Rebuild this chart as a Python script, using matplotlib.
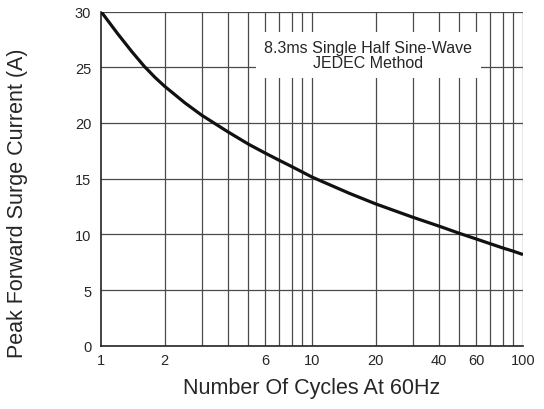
import matplotlib
matplotlib.use("Agg")
import matplotlib.pyplot as plt
from matplotlib.ticker import FixedLocator, NullFormatter, NullLocator

plt.rcParams['font.family'] = ['Liberation Sans', 'DejaVu Sans']

# curve
cycles = [1, 1.2, 1.4, 1.6, 1.8, 2, 2.5, 3, 4, 5, 6, 7, 8, 9, 10,
          15, 20, 30, 40, 50, 60, 70, 80, 90, 100]
current = [30.0, 28.0, 26.4, 25.1, 24.1, 23.3, 21.8, 20.7, 19.2, 18.1, 17.3, 16.65, 16.1, 15.6, 15.15,
           13.7, 12.75, 11.55, 10.75, 10.1, 9.6, 9.17, 8.8, 8.5, 8.2]

xtick_vals = [1, 2, 6, 10, 20, 40, 60, 100]
ytick_vals = [0, 5, 10, 15, 20, 25, 30]
grid_x = [2, 3, 4, 5, 6, 7, 8, 9, 10, 20, 30, 40, 50, 60, 70, 80, 90, 100]

fig = plt.figure(figsize=(5.44, 4.10), dpi=100)
ax = fig.add_axes([0.1857, 0.1537, 0.7757, 0.8158])

ax.set_xscale('log')
ax.set_xlim(1, 100)
ax.set_ylim(0, 30)

for gx in grid_x:
    ax.axvline(gx, color='#4a4a4a', lw=0.9, zorder=1)
for gy in ytick_vals[1:]:
    ax.axhline(gy, color='#4a4a4a', lw=0.9, zorder=1)

ax.plot(cycles, current, color='#111111', lw=2.3, zorder=3,
        solid_capstyle='butt', solid_joinstyle='round')

ax.xaxis.set_major_locator(FixedLocator(xtick_vals))
ax.xaxis.set_minor_locator(NullLocator())
ax.xaxis.set_minor_formatter(NullFormatter())
ax.set_xticklabels([str(v) for v in xtick_vals])
ax.set_yticks(ytick_vals)
ax.tick_params(length=0, labelsize=10.5, colors='#262626')
ax.tick_params(axis='y', pad=7)
ax.tick_params(axis='x', pad=5)

for s in ['top', 'right']:
    ax.spines[s].set_visible(False)
for s in ['left', 'bottom']:
    ax.spines[s].set_color('#222222')
    ax.spines[s].set_linewidth(1.2)

ax.text(18.5, 26.1, '8.3ms Single Half Sine-Wave\nJEDEC Method', ha='center', va='center',
        fontsize=11.5, color='#262626', linespacing=1.0, zorder=4,
        bbox=dict(facecolor='white', edgecolor='none', pad=6))

ax.set_xlabel('Number Of Cycles At 60Hz', fontsize=15.5, color='#262626', va='center')
ax.set_ylabel('Peak Forward Surge Current (A)', fontsize=15.5, color='#262626', va='center')
ax.xaxis.set_label_coords(0.5, -0.123)
ax.yaxis.set_label_coords(-0.199, 0.43)

fig.savefig('out.png', dpi=100)
